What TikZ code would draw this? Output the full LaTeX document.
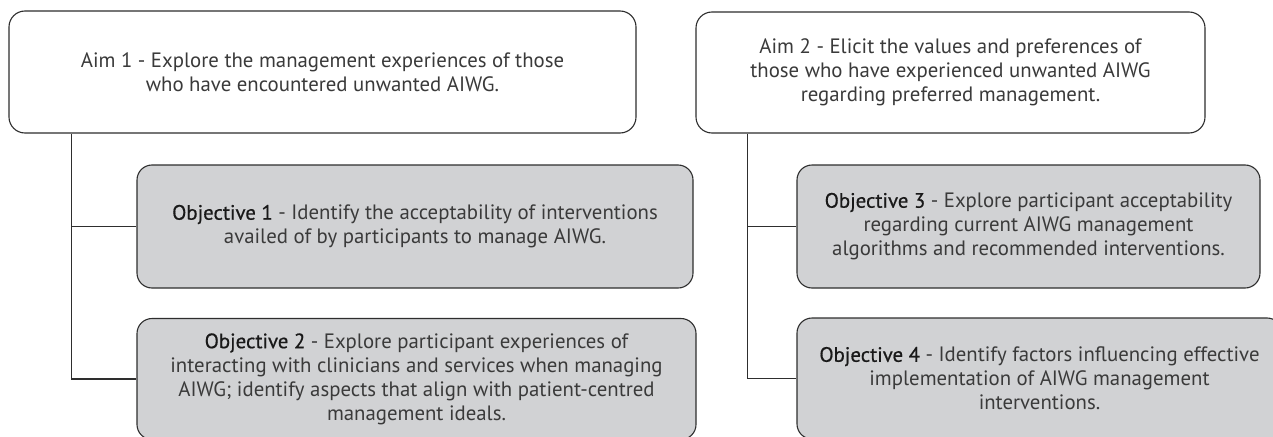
\documentclass[tikz,border=0pt]{standalone}
\usepackage{fontspec}
\setmainfont{PT Sans}
\newfontfamily\objfont{PT Sans}[FakeBold=0.6]
\definecolor{boxgray}{HTML}{D1D2D4}
\definecolor{edgegray}{HTML}{2E2E2E}
\definecolor{txtgray}{HTML}{3A3A3A}
\newcommand{\objlabel}[1]{{\objfont\color{black!90}#1}}
\begin{document}
\begin{tikzpicture}[x=1pt,y=-1pt,
  aimbox/.style={draw=edgegray, line width=1.1pt, rounded corners=16pt, fill=white,
    inner sep=0pt, align=center, text=txtgray,
    font=\fontsize{20.8}{24}\selectfont},
  objbox/.style={aimbox, fill=boxgray, rounded corners=15pt},
  conn/.style={draw=edgegray, line width=1.1pt}]
\useasboundingbox (0,0) rectangle (1273,436);
\node[aimbox, minimum width=627pt, minimum height=122pt] (aim1) at (322.5,72)
  {Aim 1 - Explore the management experiences of those\\who have encountered unwanted AIWG.};
\node[aimbox, minimum width=509pt, minimum height=121pt] (aim2) at (950.5,72.5)
  {Aim 2 - Elicit the values and preferences of\\those who have experienced unwanted AIWG\\regarding preferred management.};
\node[objbox, minimum width=556pt, minimum height=123pt] (obj1) at (415,226.5)
  {\objlabel{Objective 1} - Identify the acceptability of interventions\\availed of by participants to manage AIWG.};
\node[objbox, minimum width=559pt, minimum height=121pt] (obj2) at (416.5,379)
  {\objlabel{Objective 2} - Explore participant experiences of\\interacting with clinicians and services when managing\\AIWG; identify aspects that align with patient-centred\\management ideals.};
\node[objbox, minimum width=463pt, minimum height=123pt] (obj3) at (1028.5,226.5)
  {\objlabel{Objective 3} - Explore participant acceptability\\regarding current AIWG management\\algorithms and recommended interventions.};
\node[objbox, minimum width=485pt, minimum height=121pt] (obj4) at (1039.5,378.5)
  {\objlabel{Objective 4} - Identify factors influencing effective\\implementation of AIWG management\\interventions.};
\coordinate (t1) at ([xshift=63pt]aim1.south west);
\coordinate (t2) at ([xshift=52pt]aim2.south west);
\draw[conn] (t1) |- (obj2.west);
\draw[conn] (t1 |- obj1.west) -- (obj1.west);
\draw[conn] (t2) |- (obj4.west);
\draw[conn] (t2 |- obj3.west) -- (obj3.west);
\end{tikzpicture}
\end{document}
